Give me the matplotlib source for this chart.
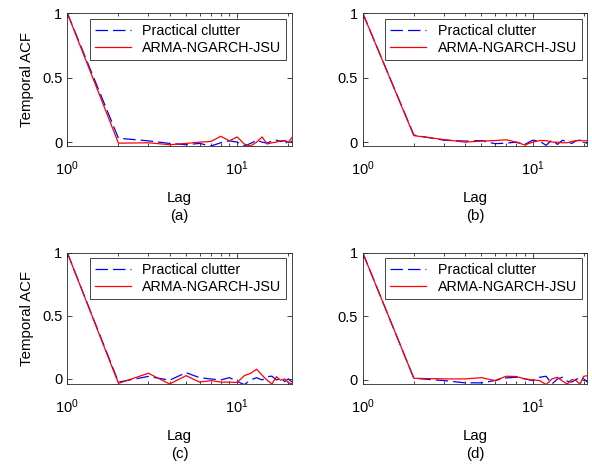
import numpy as np
import matplotlib
matplotlib.use("Agg")
import matplotlib.pyplot as plt
from matplotlib.ticker import LogLocator, NullFormatter

plt.rcParams["font.family"] = ["Liberation Sans", "DejaVu Sans"]
plt.rcParams["mathtext.fontset"] = "custom"
plt.rcParams["mathtext.rm"] = "Liberation Sans"
plt.rcParams["mathtext.it"] = "Liberation Sans:italic"
plt.rcParams["mathtext.default"] = "regular"

lags = list(range(1, 22))

# (a)
a_practical = [1.0, 0.03, 0.01, -0.01, -0.02, -0.01, -0.03, -0.005, 0.01, 0.0, -0.03,
               -0.01, 0.015, 0.0, -0.008, 0.01, 0.015, 0.005, 0.012, -0.02, 0.01]
a_model = [1.0, -0.008, -0.005, -0.02, -0.01, 0.0, 0.005, 0.045, 0.01, 0.04, -0.015,
           -0.03, 0.0, 0.04, -0.015, -0.005, 0.0, 0.01, 0.012, 0.0, 0.035]
# (b)
b_practical = [1.0, 0.055, 0.015, 0.008, 0.012, -0.012, -0.008, 0.0, -0.018, 0.015, 0.008,
               -0.025, 0.018, -0.018, 0.015, 0.0, -0.01, 0.01, 0.015, 0.005, -0.012]
b_model = [1.0, 0.05, 0.02, 0.0, 0.008, 0.012, 0.018, 0.0, -0.022, 0.0, 0.012,
           0.012, 0.0, 0.0, -0.005, -0.005, 0.005, 0.012, 0.012, 0.01, 0.012]
# (c)
c_practical = [1.0, -0.025, 0.02, -0.01, 0.05, 0.01, 0.0, -0.008, 0.01, -0.02, -0.045,
               -0.008, 0.01, -0.008, 0.018, 0.022, -0.008, 0.005, -0.02, 0.0, -0.025]
c_model = [1.0, -0.035, 0.045, -0.04, 0.026, -0.025, -0.013, -0.025, -0.025, -0.028, 0.026,
           0.045, 0.077, 0.03, -0.01, -0.04, 0.018, -0.01, 0.0, -0.03, -0.04]
# (d)
d_practical = [1.0, 0.01, -0.008, -0.026, -0.026, -0.008, 0.013, 0.018, 0.005, -0.008, 0.018,
               0.026, -0.035, 0.005, 0.018, -0.013, -0.02, 0.0, 0.018, 0.005, -0.02]
d_model = [1.0, 0.01, 0.005, 0.005, 0.015, -0.008, 0.026, 0.024, 0.005, -0.003, -0.008,
           -0.04, 0.005, 0.018, -0.013, -0.035, 0.0, -0.008, -0.035, 0.026, 0.03]

panels = [("(a)", a_practical, a_model, -0.03),
          ("(b)", b_practical, b_model, -0.03),
          ("(c)", c_practical, c_model, -0.04),
          ("(d)", d_practical, d_model, -0.035)]

fig = plt.figure(figsize=(5.92, 4.66), dpi=100)
positions = [[0.1137, 0.6867, 0.3795, 0.2853],
             [0.6127, 0.6867, 0.3795, 0.2853],
             [0.1137, 0.176, 0.3795, 0.2817],
             [0.6127, 0.176, 0.3795, 0.2817]]

axcol = "#262626"
for i, (tag, prac, model, ylo) in enumerate(panels):
    ax = fig.add_axes(positions[i])
    ax.plot(lags, prac, color="blue", linestyle=(0, (10, 4)), linewidth=0.9,
            label="Practical clutter")
    ax.plot(lags, model, color="red", linewidth=0.9, label="ARMA-NGARCH-JSU")
    ax.set_xscale("log")
    ax.set_xlim(1, 21)
    ax.set_ylim(ylo, 1)
    ax.set_yticks([0, 0.5, 1])
    ax.set_yticklabels(["0", "0.5", "1"])
    ax.xaxis.set_major_locator(LogLocator(base=10, numticks=5))
    ax.xaxis.set_minor_locator(LogLocator(base=10, subs=np.arange(2, 10), numticks=10))
    ax.xaxis.set_minor_formatter(NullFormatter())
    ax.tick_params(which="both", direction="in", top=True, right=True,
                   labelsize=10.5, colors=axcol, labelcolor="black")
    ax.tick_params(which="major", length=3.5, width=0.6)
    ax.tick_params(which="minor", length=2, width=0.6)
    ax.tick_params(axis="x", pad=10)
    for sp in ax.spines.values():
        sp.set_color(axcol)
        sp.set_linewidth(0.6)
    ax.set_xlabel("Lag\n" + tag, fontsize=10.8, linespacing=1.4, labelpad=9)
    if i % 2 == 0:
        ax.set_ylabel("Temporal ACF", fontsize=10.8, labelpad=6)
    leg = ax.legend(loc="upper right", fontsize=10.3, fancybox=False,
                    edgecolor=axcol, framealpha=1, handlelength=2.5,
                    borderpad=0.35, labelspacing=0.2, handletextpad=0.8,
                    borderaxespad=0.4)
    leg.get_frame().set_linewidth(0.6)

fig.savefig("out.png", dpi=100)
